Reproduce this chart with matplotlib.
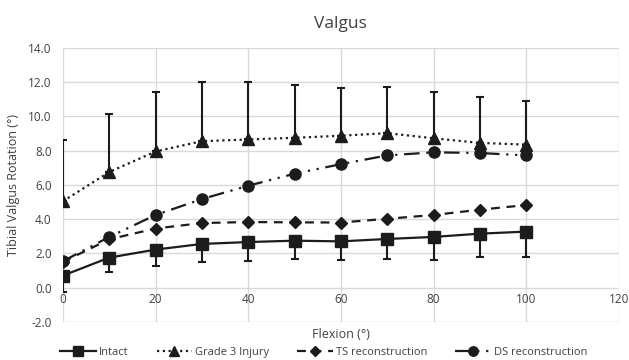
import matplotlib.pyplot as plt

flexion = [0, 10, 20, 30, 40, 50, 60, 70, 80, 90, 100]

intact = [0.70, 1.75, 2.22, 2.55, 2.66, 2.74, 2.70, 2.84, 2.96, 3.15, 3.27]
intact_sd = [0.97, 0.83, 0.94, 1.07, 1.12, 1.07, 1.07, 1.15, 1.33, 1.36, 1.50]

grade3 = [5.04, 6.75, 7.95, 8.55, 8.65, 8.75, 8.87, 9.02, 8.72, 8.45, 8.35]
grade3_sd = [3.59, 3.36, 3.45, 3.43, 3.35, 3.09, 2.78, 2.67, 2.68, 2.68, 2.56]

ts_recon = [1.50, 2.82, 3.45, 3.77, 3.83, 3.81, 3.80, 4.02, 4.24, 4.55, 4.82]
ds_recon = [1.54, 2.96, 4.24, 5.17, 5.95, 6.65, 7.21, 7.72, 7.90, 7.86, 7.72]

x_ticks = [0, 20, 40, 60, 80, 100, 120]
y_ticks = [-2, 0, 2, 4, 6, 8, 10, 12, 14]

INK = "#1c1c1c"
GRID = "#d9d9d9"
TEXT = "#404040"

plt.rcParams["font.family"] = ["Open Sans", "DejaVu Sans"]

fig = plt.figure(figsize=(6.29, 3.6), dpi=100)
ax = fig.add_axes([0.100, 0.106, 0.884, 0.761])

zeros = [0] * len(flexion)

# error bars: intact only downward, grade 3 only upward
ax.errorbar(flexion, intact, yerr=[intact_sd, zeros], fmt="none", ecolor=INK,
            capsize=3, elinewidth=1.5, capthick=1.5, zorder=3)
ax.errorbar(flexion, grade3, yerr=[zeros, grade3_sd], fmt="none", ecolor=INK,
            capsize=3, elinewidth=1.5, capthick=1.5, zorder=3)

ax.plot(flexion, intact, color=INK, lw=1.6, marker="s", ms=8.5,
        label="Intact", zorder=5)
ax.plot(flexion, grade3, color=INK, lw=1.6, ls=(0, (1, 1.6)), marker="^",
        ms=8, label="Grade 3 Injury", zorder=4)
ax.plot(flexion, ts_recon, color=INK, lw=1.6, ls=(0, (4, 3)), marker="D",
        ms=6, label="TS reconstruction", zorder=4)
ax.plot(flexion, ds_recon, color=INK, lw=1.6, ls=(0, (7, 3, 1, 3, 1, 3)),
        marker="o", ms=8, label="DS reconstruction", zorder=4)

ax.set_xlim(0, 120)
ax.set_ylim(-2, 14)
ax.set_xticks(x_ticks)
ax.set_yticks(y_ticks)
ax.set_yticklabels([f"{v:.1f}" for v in y_ticks])
ax.grid(True, color=GRID, lw=1)
ax.set_axisbelow(True)
for side in ["top", "right", "left"]:
    ax.spines[side].set_visible(False)
ax.spines["bottom"].set_position(("data", 0))
ax.spines["bottom"].set_visible(False)
ax.tick_params(length=0, labelsize=8.5, colors=TEXT, pad=4)
ax.tick_params(axis="y", pad=8)

ax.set_title("Valgus", fontsize=12.5, color=TEXT, pad=14)
ax.set_ylabel("Tibial Valgus Rotation (°)", fontsize=9, color=TEXT, labelpad=6)
fig.text(0.542, 0.07, "Flexion (°)", ha="center", va="center", fontsize=9,
         color=TEXT)

fig.legend(loc="center", bbox_to_anchor=(0.515, 0.022), ncol=4,
           frameon=False, fontsize=8, handlelength=3.2, columnspacing=2.5,
           handletextpad=0.3, labelcolor=TEXT, markerscale=0.85)

fig.savefig("out.png", dpi=100)
